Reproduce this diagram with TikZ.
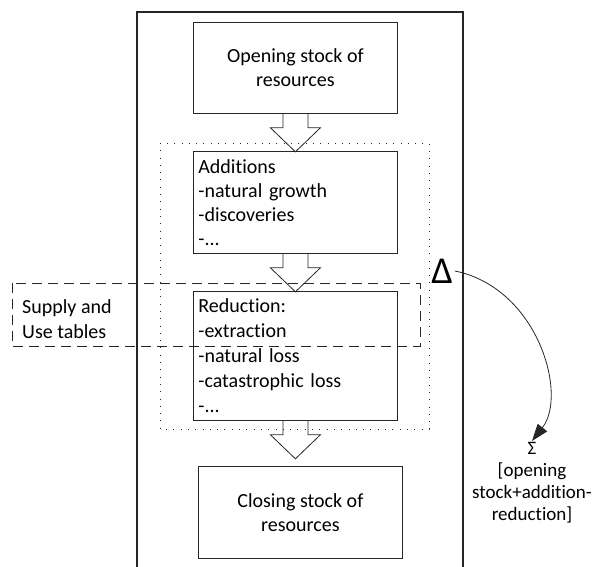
\documentclass[tikz,border=0pt]{standalone}
\usepackage{fontspec}
\setmainfont[Ligatures=NoCommon]{Carlito}
\usetikzlibrary{arrows.meta,positioning}

\tikzset{
    box/.style={draw=black!85, line width=0.8pt, minimum width=204pt,
        inner sep=5pt, font=\fontsize{20}{24}\selectfont},
    listbox/.style={box, anchor=north west, text width=194pt, align=left},
    flow/.style={draw=black!85, line width=0.8pt, line join=miter},
}

\begin{document}
\begin{tikzpicture}[x=1pt, y=1pt]
    \useasboundingbox (0,0) rectangle (592,-567);
    % Frame, open at the bottom
    \draw[line width=1.3pt, black!85] (137,-567) -- (137,-12) -- (463,-12) -- (463,-567);
    % Boxes
    \node[box, anchor=north west, minimum height=91pt, align=center] (open) at (193,-22) {Opening stock of\\resources};
    \node[listbox, minimum height=102pt] (add) at (193,-151) {Additions\\-natural growth\\-discoveries\\-...};
    \node[listbox, minimum height=129pt, font=\fontsize{20}{25}\selectfont] (red) at (193,-291) {Reduction:\\-extraction\\-natural loss\\-catastrophic loss\\-...};
    \node[box, anchor=north west, minimum height=92pt, align=center] (close) at (198,-466) {Closing stock of\\resources};
    % Change (dotted) and supply/use (dashed) areas
    \draw[line width=0.8pt, black!85, dash pattern=on 0.8pt off 6.5pt] (160,-143) rectangle (429,-429);
    \draw[line width=0.9pt, black!85, dash pattern=on 10pt off 6pt] (12,-283) rectangle (420,-346);
    \node[anchor=west, align=left, inner sep=5pt, font=\fontsize{20}{25}\selectfont] (sut) at (17,-319.5) {Supply and\\Use tables};
    % Block arrows
    \foreach \n in {open,add,red}
        \draw[flow] (\n.south) ++(-12.5,0) -- ++(0,-14) -- ++(-12.5,0) -- ++(25,-24)
            -- ++(25,24) -- ++(-12.5,0) -- ++(0,14);
    % Delta and sum
    \node[inner sep=2pt, font=\fontsize{38}{38}\selectfont] (delta) at (442,-271) {Δ};
    \node[anchor=north, align=center, inner sep=1pt, font=\fontsize{19}{22}\selectfont] (sigma) at (532,-441) {Σ\\{}[opening\\stock+addition-\\reduction]};
    \draw[line width=0.8pt, black!85, -{Triangle[length=17pt,width=12pt]}]
        (delta.east) .. controls (538,-288) and (568,-395) .. (sigma.north);
\end{tikzpicture}
\end{document}
